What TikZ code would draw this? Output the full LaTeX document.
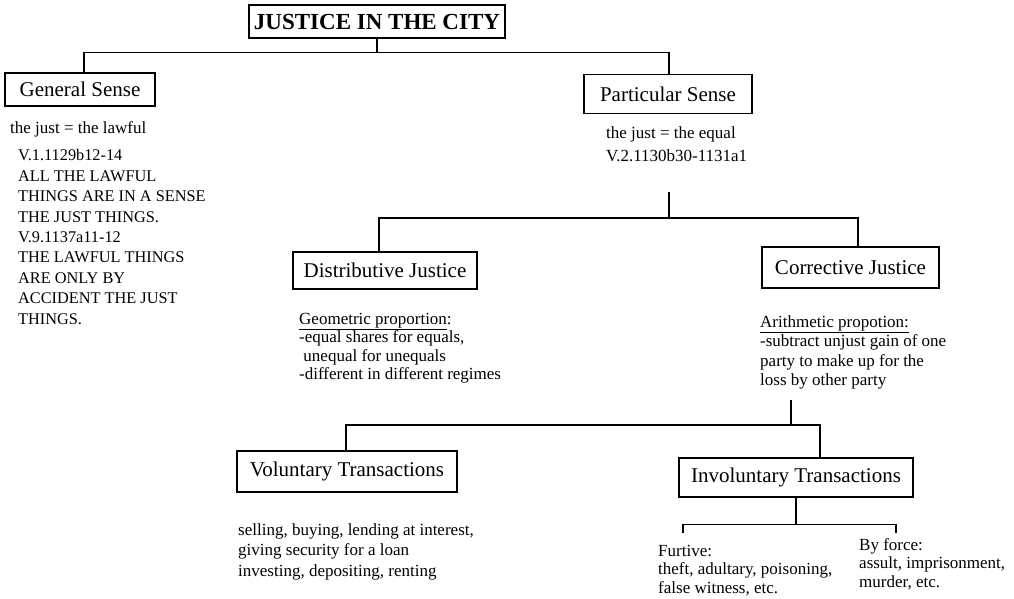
\documentclass[tikz,border=0pt]{standalone}
\usepackage{fontspec}
\setmainfont{Liberation Serif}
\usetikzlibrary{positioning}

\tikzset{
  topic/.style={draw,line width=1.1pt,inner xsep=4pt,minimum height=39pt,font=\fontsize{21}{24}\selectfont},
  note/.style={anchor=north west,align=left,inner sep=0pt,font=\fontsize{17}{20.5}\selectfont},
  caps/.style={note,font=\fontsize{16.3}{20.5}\selectfont},
  link/.style={line width=1.1pt},
}

\begin{document}
\begin{tikzpicture}[x=1pt,y=-1pt]
    \useasboundingbox (0,0) rectangle (1014,598);
    % boxes
    \node[topic,minimum width=256pt,minimum height=33pt,font=\bfseries\fontsize{23}{26}\selectfont] (city) at (377,21.5) {JUSTICE IN THE CITY};
    \node[topic,minimum width=150pt,minimum height=33pt] (gen) at (80,89.5) {General Sense};
    \node[topic,minimum width=168pt] (part) at (668,94) {Particular Sense};
    \node[topic,minimum width=184pt,minimum height=37pt] (dist) at (385,270.5) {Distributive Justice};
    \node[topic,minimum width=177pt,minimum height=41pt] (corr) at (850.5,267.5) {Corrective Justice};
    \node[topic,minimum width=220pt,minimum height=41pt] (vol) at (347,471.5) {Voluntary Transactions};
    \node[topic,minimum width=234pt] (invol) at (796,477.5) {Involuntary Transactions};
    % texts
    \node[note] (lawful) at (10,121) {the just = the lawful};
    \node[caps] (cite1) at (18,149) {V.1.1129b12-14\\ALL THE LAWFUL\\THINGS ARE IN A SENSE\\THE JUST THINGS.};
    \node[caps] (cite2) at (18,231) {V.9.1137a11-12\\THE LAWFUL THINGS\\ARE ONLY BY\\ACCIDENT THE JUST\\THINGS.};
    \node[note,font=\fontsize{17}{23}\selectfont] (equal) at (606,126) {the just = the equal\\V.2.1130b30-1131a1};
    \node[note,font=\fontsize{17}{18.5}\selectfont] (geom) at (299,313) {\underline{Geometric proportion}:\\-equal shares for equals,\\\ unequal for unequals\\-different in different regimes};
    \node[note,font=\fontsize{17}{19.5}\selectfont] (arith) at (760,315) {\underline{Arithmetic propotion:}\\-subtract unjust gain of one\\party to make up for the\\loss by other party};
    \node[note] (deals) at (238,523) {selling, buying, lending at interest,\\giving security for a loan\\investing, depositing, renting};
    \node[note,font=\fontsize{17}{18.5}\selectfont] (furtive) at (658,545) {Furtive:\\theft, adultary, poisoning,\\false witness, etc.};
    \node[note,font=\fontsize{17}{18.5}\selectfont] (force) at (859,538) {By force:\\assult, imprisonment,\\murder, etc.};
    % forks
    \coordinate (partfork) at (669,192);
    \coordinate (arithfork) at (791,400);
    \coordinate (furtend) at (683,533);
    \coordinate (forceend) at (896,533);
    % connectors
    \draw[link] (city.south) -- ++(0,14) -| ([xshift=4pt]gen.north);
    \draw[link] (city.south) -- ++(0,14) -| ([xshift=1pt]part.north);
    \draw[link] (partfork) -- ++(0,26) -| ([xshift=-6pt]dist.north);
    \draw[link] (partfork) -- ++(0,26) -| ([xshift=7.5pt]corr.north);
    \draw[link] (arithfork) -- ++(0,25) -| ([xshift=-1pt]vol.north);
    \draw[link] (arithfork) -- ++(0,25) -| ([xshift=24pt]invol.north);
    \draw[link] (invol.south) -- ++(0,27) -| (furtend);
    \draw[link] (invol.south) -- ++(0,27) -| (forceend);
\end{tikzpicture}
\end{document}
